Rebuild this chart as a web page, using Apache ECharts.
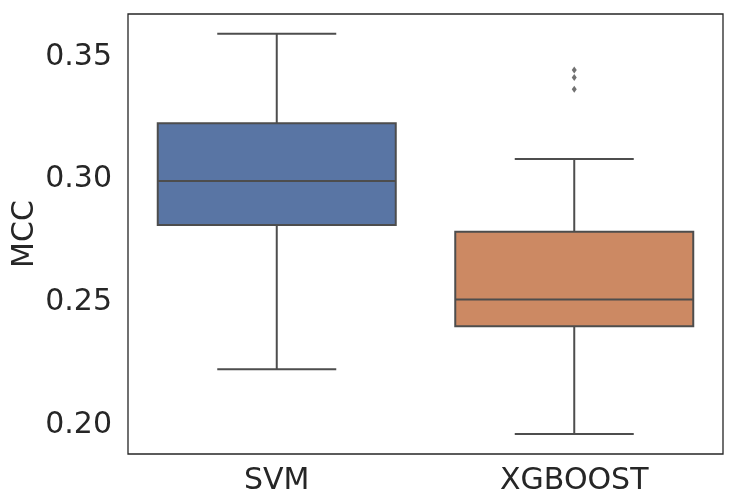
<!DOCTYPE html>
<html>
<head>
<meta charset="utf-8">
<script src="https://cdn.jsdelivr.net/npm/echarts@6/dist/echarts.min.js"></script>
<style>html,body{margin:0;padding:0;background:#fff}#c{width:737px;height:502px}</style>
</head>
<body>
<div id="c"></div>
<script>
const categories = ['SVM', 'XGBOOST'];
// [lower whisker, Q1, median, Q3, upper whisker]
const boxStats = [
  [0.2227, 0.2815, 0.2994, 0.3230, 0.3595],
  [0.1964, 0.2403, 0.2512, 0.2788, 0.3084]
];
const outliers = [
  ['XGBOOST', 0.3447],
  ['XGBOOST', 0.3416],
  ['XGBOOST', 0.3368]
];
const boxColors = ['#5975a4', '#cc8963'];
const yTicks = [0.20, 0.25, 0.30, 0.35];

const lineColor = '#4d4d4d';
const chart = echarts.init(document.getElementById('c'), null, {renderer: 'canvas'});
const boxData = boxStats.map((s, i) => [i].concat(s));

chart.setOption({
  animation: false,
  grid: {left: 128, top: 14, right: 14, bottom: 48, show: true, borderColor: '#262626', borderWidth: 1.3, backgroundColor: '#fff',
    containLabel: false, outerBoundsMode: 'none'},
  xAxis: {
    type: 'category', data: categories,
    axisLine: {show: false}, axisTick: {show: false},
    axisLabel: {fontFamily: 'DejaVu Sans', fontSize: 30, color: '#262626', margin: 12},
    splitLine: {show: false}
  },
  yAxis: {
    type: 'value', min: 0.1882, max: 0.3675,
    name: 'MCC', nameLocation: 'middle', nameGap: 88, nameMoveOverlap: false,
    nameTextStyle: {fontFamily: 'DejaVu Sans', fontSize: 30, color: '#262626'},
    axisLine: {show: false}, axisTick: {show: false}, splitLine: {show: false},
    axisLabel: {
      fontFamily: 'DejaVu Sans', fontSize: 30, color: '#262626', margin: 16,
      padding: [9, 0, 0, 0],
      customValues: yTicks,
      formatter: v => v.toFixed(2)
    }
  },
  series: [
    {
      type: 'custom',
      data: boxData,
      encode: {x: 0, y: [1, 2, 3, 4, 5]},
      renderItem: function (params, api) {
        const idx = api.value(0);
        const vals = [1, 2, 3, 4, 5].map(k => api.coord([idx, api.value(k)]));
        const x = vals[0][0];
        const band = api.size([1, 0])[0];
        const bw = band * 0.8;
        const cw = bw / 2;
        const yLow = vals[0][1], yQ1 = vals[1][1], yMed = vals[2][1], yQ3 = vals[3][1], yHigh = vals[4][1];
        const ls = {stroke: lineColor, lineWidth: 2};
        return {
          type: 'group',
          children: [
            {type: 'line', shape: {x1: x, y1: yQ3, x2: x, y2: yHigh}, style: ls},
            {type: 'line', shape: {x1: x, y1: yQ1, x2: x, y2: yLow}, style: ls},
            {type: 'line', shape: {x1: x - cw / 2, y1: yHigh, x2: x + cw / 2, y2: yHigh}, style: ls},
            {type: 'line', shape: {x1: x - cw / 2, y1: yLow, x2: x + cw / 2, y2: yLow}, style: ls},
            {type: 'rect', shape: {x: x - bw / 2, y: yQ3, width: bw, height: yQ1 - yQ3},
              style: {fill: boxColors[idx], stroke: lineColor, lineWidth: 2}},
            {type: 'line', shape: {x1: x - bw / 2, y1: yMed, x2: x + bw / 2, y2: yMed}, style: ls}
          ]
        };
      }
    },
    {
      type: 'scatter',
      data: outliers,
      symbol: 'diamond',
      symbolSize: [5, 7],
      itemStyle: {color: lineColor}
    }
  ]
});
</script>
</body>
</html>
